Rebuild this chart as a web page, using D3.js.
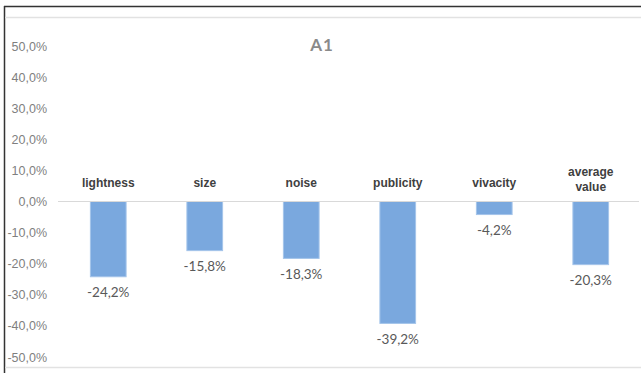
<!DOCTYPE html>
<html>
<head>
<meta charset="utf-8">
<script src="https://cdn.jsdelivr.net/npm/d3@7"></script>
<style>
  html, body { margin: 0; padding: 0; background: #fff; }
  svg { display: block; font-family: Lato, "Open Sans", sans-serif; }
</style>
</head>
<body>
<svg id="chart" width="641" height="373"></svg>
<script>
// Chart data
const categories = ["lightness", "size", "noise", "publicity", "vivacity", "average value"];
const values = [-24.2, -15.8, -18.3, -39.2, -4.2, -20.3];
const yTicks = [50, 40, 30, 20, 10, 0, -10, -20, -30, -40, -50];
const title = "A1";

const svg = d3.select("#chart");
const W = 641, H = 373;

// Frame lines
svg.append("line").attr("x1", 4).attr("x2", W).attr("y1", 6.5).attr("y2", 6.5)
  .attr("stroke", "#333").attr("stroke-width", 1.5);
svg.append("line").attr("x1", 4.5).attr("x2", 4.5).attr("y1", 6).attr("y2", H)
  .attr("stroke", "#333").attr("stroke-width", 1.5);
svg.append("line").attr("x1", 5).attr("x2", W).attr("y1", 17.5).attr("y2", 17.5)
  .attr("stroke", "#e2e2e2").attr("stroke-width", 1.5);
svg.append("line").attr("x1", 5).attr("x2", W).attr("y1", 367.5).attr("y2", 367.5)
  .attr("stroke", "#e2e2e2").attr("stroke-width", 1.5);

// Comma decimal, plain hyphen for negatives
const fmt = v => d3.format(".1f")(v).replace(".", ",").replace("\u2212", "-") + "%";

const x = d3.scaleBand().domain(categories).range([60, 639]).paddingInner(0.63).paddingOuter(0.315);
const y = d3.scaleLinear().domain([-50, 50]).range([357, 46]);

// Y axis labels
const yAxis = d3.axisLeft(y).tickValues(yTicks).tickFormat(fmt).tickSize(0).tickPadding(0);
const gy = svg.append("g").attr("transform", "translate(47,0)").call(yAxis);
gy.select(".domain").remove();
gy.selectAll("text").attr("fill", "#7f7f7f").attr("font-size", 12.5);

// Title
svg.append("text").attr("x", 322).attr("y", 51).attr("text-anchor", "middle")
  .attr("fill", "#8a8a8a").attr("font-size", 17).attr("font-weight", "bold")
  .attr("letter-spacing", 1).text(title);

// Bars
svg.selectAll("rect.bar").data(values).join("rect").attr("class", "bar")
  .attr("x", (d, i) => x(categories[i]))
  .attr("width", x.bandwidth())
  .attr("y", d => y(Math.max(0, d)))
  .attr("height", d => Math.abs(y(d) - y(0)))
  .attr("fill", "#7aa8de").attr("stroke", "#a4c4ea").attr("stroke-width", 1);

// Zero line
svg.append("line").attr("x1", 58).attr("x2", 639).attr("y1", y(0)).attr("y2", y(0))
  .attr("stroke", "#d9d9d9").attr("stroke-width", 1);

// Category labels above the zero line
const xAxis = d3.axisTop(x).tickSize(0).tickPadding(0);
const gx = svg.append("g").attr("transform", `translate(0,${y(0) - 18})`).call(xAxis);
gx.select(".domain").remove();
gx.selectAll("text").attr("fill", "#404040").attr("font-size", 12).attr("font-weight", 600)
  .attr("y", 0).attr("dy", 0)
  .attr("dominant-baseline", "middle")
  .each(function(d) {
    const t = d3.select(this);
    const words = d.split(" ");
    if (words.length > 1) {
      t.text(null);
      t.append("tspan").attr("x", 0).attr("dy", -11).text(words[0]);
      t.append("tspan").attr("x", 0).attr("dy", 15).text(words[1]);
    }
  });

// Value labels below each bar
svg.selectAll("text.val").data(values).join("text").attr("class", "val")
  .attr("x", (d, i) => x(categories[i]) + x.bandwidth() / 2)
  .attr("y", d => y(d) + 17)
  .attr("text-anchor", "middle").attr("dominant-baseline", "middle")
  .attr("fill", "#595959").attr("font-size", 13.5).text(fmt);
</script>
</body>
</html>
